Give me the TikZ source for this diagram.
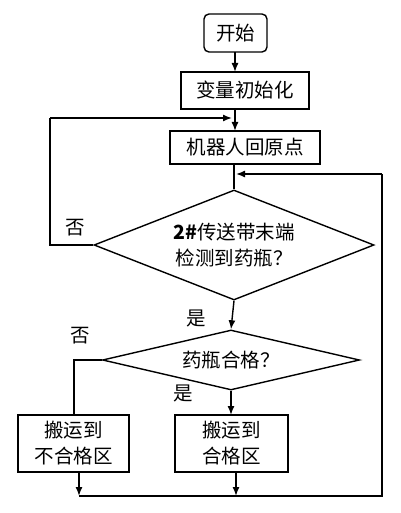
\documentclass[tikz,border=0pt]{standalone}
\usepackage{fontspec}
\setmainfont{Noto Sans CJK SC}
\usetikzlibrary{shapes.geometric,arrows.meta}
\begin{document}
\begin{tikzpicture}[x=1pt,y=-1pt,
  every node/.style={font=\fontsize{19.5}{26}\selectfont},
  line/.style={line width=1.4pt},
  arr/.style={line width=1.4pt,-{Latex[length=9pt,width=7pt]}},
  box/.style={draw,line width=1.4pt,inner sep=0pt,align=center},
  lab/.style={inner sep=0pt}]
\useasboundingbox (0,0) rectangle (400,513);
\node[box,rounded corners=5pt,minimum width=63pt,minimum height=38pt] (start) at (235.5,33) {开始};
\node[box,minimum width=128pt,minimum height=37pt] (init) at (245,90.5) {变量初始化};
\node[box,minimum width=150pt,minimum height=33pt] (home) at (245,147.5) {机器人回原点};
\node[draw,line width=1.4pt,diamond,aspect=2.55,minimum width=280pt,minimum height=110pt,inner sep=0pt,align=center] (d1) at (234,245) {\textbf{2\#}传送带末端\\检测到药瓶？};
\node[draw,line width=1.4pt,diamond,aspect=4.3,minimum width=257pt,minimum height=60pt,inner sep=0pt] (d2) at (231,360) {药瓶合格？};
\node[box,minimum width=111pt,minimum height=57pt] (bad) at (73.5,443.5) {搬运到\\不合格区};
\node[box,minimum width=113pt,minimum height=57pt] (good) at (231.5,443.5) {搬运到\\合格区};
\coordinate (s1) at (235,52);
\coordinate (s2) at (235,72);
\coordinate (s3) at (235,109);
\coordinate (s4) at (235,131);
\coordinate (s5) at (234,164);
\coordinate (c1) at (232,118);
\coordinate (c1l) at (50,118);
\coordinate (c1b) at (50,245);
\coordinate (c2) at (236,174);
\coordinate (c2r) at (382,174);
\coordinate (c3) at (382,496);
\coordinate (l1) at (74,360);
\coordinate (l2) at (74,415);
\coordinate (g1) at (231,415);
\coordinate (t1) at (79,472);
\coordinate (t2) at (236,472);
\coordinate (b1) at (79,496);
\coordinate (b2) at (236,496);
\node[lab] (no1) at (75,228) {否};
\node[lab] (yes1) at (196,318) {是};
\node[lab] (no2) at (80,336) {否};
\node[lab] (yes2) at (183,393) {是};
\draw[arr] (s1) -- (s2);
\draw[arr] (s3) -- (s4);
\draw[line] (s5) -- (d1.north);
\draw[line] (d1.west) -- (c1b) -- (c1l);
\draw[arr] (c1l) -- (c1);
\draw[arr] (d1.south) -- (d2.north);
\draw[line] (d2.west) -- (l1) -- (l2);
\draw[arr] (d2.south) -- (g1);
\draw[arr] (t1) -- (b1);
\draw[arr] (t2) -- (b2);
\draw[line] (b1) -- (c3) -- (c2r);
\draw[arr] (c2r) -- (c2);
\end{tikzpicture}
\end{document}
